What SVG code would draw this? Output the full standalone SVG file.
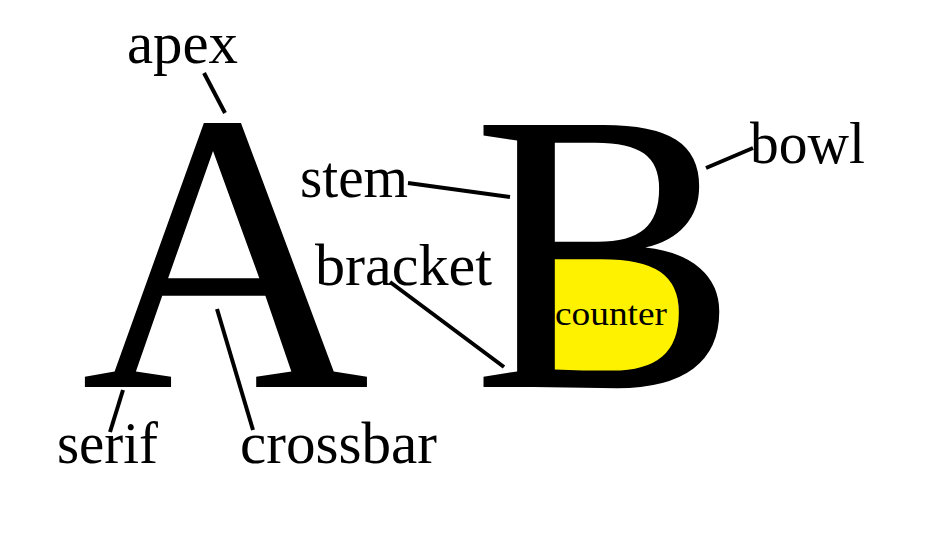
<svg xmlns="http://www.w3.org/2000/svg" width="931" height="533" viewBox="0 0 931 533">
  <style>
    .big { font-family: "Liberation Serif", "Times New Roman", serif; font-size: 400px; fill: #000; }
    .lbl { font-family: "Liberation Serif", "Times New Roman", serif; font-size: 60px; fill: #000; }
    .small { font-family: "Liberation Serif", "Times New Roman", serif; font-size: 34px; fill: #000; }
    .conn line { stroke: #000; stroke-width: 4; stroke-linecap: butt; }
  </style>
  <rect width="931" height="533" fill="#fff"/>
  <g id="counter-fill">
    <path d="M550,250 H628 C664,250 679,284 679,314 C679,350 662,377 624,377 H550 Z" fill="#fff200"/>
  </g>
  <g id="letter-A"><text class="big" x="81" y="387">A</text></g>
  <g id="letter-B"><text class="big" x="472" y="387">B</text></g>
  <g id="label-counter"><text class="small" x="555" y="325" textLength="112" lengthAdjust="spacingAndGlyphs">counter</text></g>
  <g id="label-apex"><text class="lbl" x="127" y="63" textLength="111" lengthAdjust="spacingAndGlyphs">apex</text></g>
  <g id="label-stem"><text class="lbl" x="300" y="197" textLength="108" lengthAdjust="spacingAndGlyphs">stem</text></g>
  <g id="label-bracket"><text class="lbl" x="315" y="285" textLength="177" lengthAdjust="spacingAndGlyphs">bracket</text></g>
  <g id="label-bowl"><text class="lbl" x="750" y="163" textLength="115" lengthAdjust="spacingAndGlyphs">bowl</text></g>
  <g id="label-serif"><text class="lbl" x="57" y="463" textLength="101" lengthAdjust="spacingAndGlyphs">serif</text></g>
  <g id="label-crossbar"><text class="lbl" x="240" y="463" textLength="197" lengthAdjust="spacingAndGlyphs">crossbar</text></g>
  <g id="connectors" class="conn">
    <line x1="204" y1="73" x2="225" y2="113"/>
    <line x1="408" y1="183" x2="510" y2="197"/>
    <line x1="390" y1="282" x2="504" y2="367"/>
    <line x1="706" y1="168" x2="753" y2="148"/>
    <line x1="123" y1="390" x2="110" y2="432"/>
    <line x1="217" y1="309" x2="253" y2="430"/>
  </g>
</svg>
